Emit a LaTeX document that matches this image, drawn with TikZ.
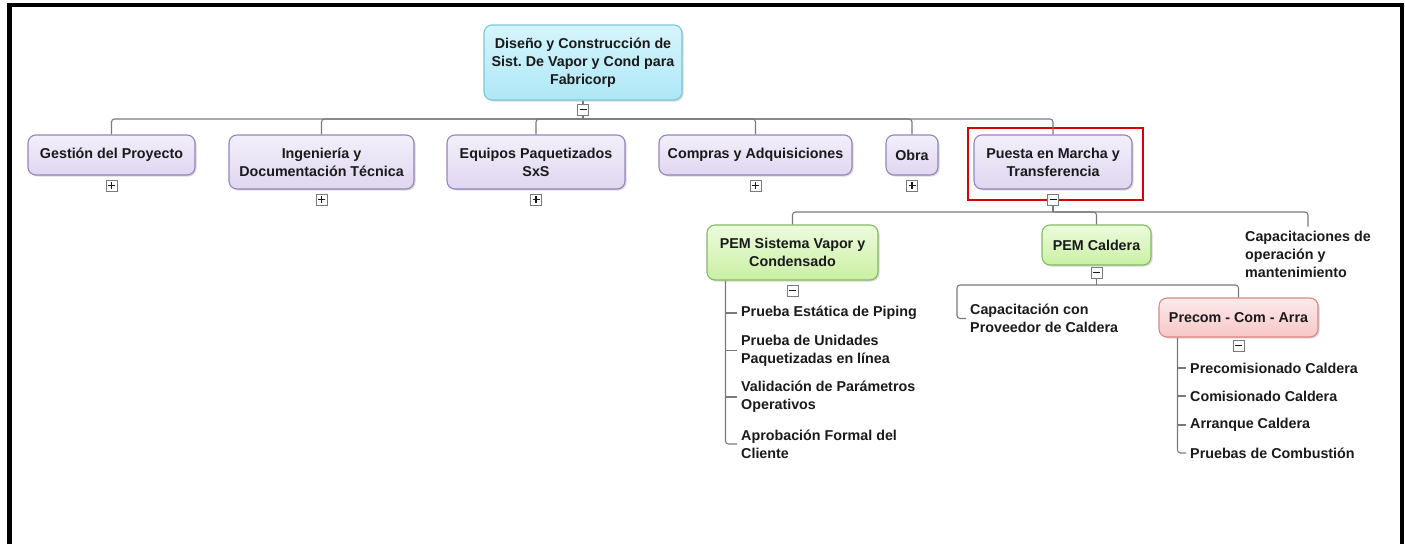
\documentclass[tikz,border=0pt]{standalone}
\usepackage{fontspec}
\setmainfont{Liberation Sans}
\usetikzlibrary{shadows,positioning}
\definecolor{txt}{HTML}{1A1A1A}
\definecolor{linecol}{HTML}{7A7A7A}
\definecolor{roottop}{HTML}{D6F5FC}
\definecolor{rootbot}{HTML}{AEE7F6}
\definecolor{rootline}{HTML}{7CC6DA}
\definecolor{lavtop}{HTML}{F3EFFA}
\definecolor{lavbot}{HTML}{E0D6F1}
\definecolor{lavline}{HTML}{9683BE}
\definecolor{pemtop}{HTML}{EDFBDD}
\definecolor{pembot}{HTML}{CAF0A3}
\definecolor{pemline}{HTML}{82BA62}
\definecolor{prectop}{HTML}{FDEAEA}
\definecolor{precbot}{HTML}{F7C7C7}
\definecolor{precline}{HTML}{DE8585}
\newcommand{\wbsfont}{\fontsize{14.3}{18}\selectfont\bfseries\frenchspacing}
\tikzset{%
  wbs/.style={draw, rounded corners=8pt, line width=1.1pt, align=center,
    inner sep=0pt, font=\wbsfont, text=txt,
    drop shadow={shadow xshift=1.5pt, shadow yshift=-1.5pt, opacity=.3}},
  rootbox/.style={wbs, draw=rootline, top color=roottop, bottom color=rootbot},
  phase/.style={wbs, draw=lavline, top color=lavtop, bottom color=lavbot},
  pembox/.style={wbs, draw=pemline, top color=pemtop, bottom color=pembot},
  precbox/.style={wbs, draw=precline, top color=prectop, bottom color=precbot},
  leaf/.style={anchor=west, align=left, inner sep=4pt, font=\wbsfont, text=txt},
  conn/.style={draw=linecol, line width=1.1pt, rounded corners=3pt},
  toggle/.style={draw=linecol, fill=white, minimum size=11pt, inner sep=0pt,
    line width=.8pt},
  tgminus/.style={toggle, path picture={%
      \draw[line width=1.4pt,txt] ([xshift=-3.5pt]path picture bounding box.center)
        -- ([xshift=3.5pt]path picture bounding box.center);}},
  tgplus/.style={toggle, path picture={%
      \draw[line width=1.4pt,txt] ([xshift=-3.5pt]path picture bounding box.center)
        -- ([xshift=3.5pt]path picture bounding box.center);
      \draw[line width=1.4pt,txt] ([yshift=-3.5pt]path picture bounding box.center)
        -- ([yshift=3.5pt]path picture bounding box.center);}},
}

\begin{document}
\begin{tikzpicture}[x=1pt,y=-1pt]
  \useasboundingbox (0,0) rectangle (1405,544);
  % frame
  \draw[line width=4.5pt] (9.5,544) -- (9.5,5) -- (1402,5) -- (1402,544);

  % root and first level
  \node[rootbox, minimum width=198pt, minimum height=75pt] (root) at (583,62.5)
    {Diseño y Construcción de\\Sist. De Vapor y Cond para\\Fabricorp};
  \node[tgminus, below=3pt of root] (tgroot) {};
  \coordinate (bus0) at (583,119);

  \node[phase, minimum width=167pt, minimum height=40pt] (gestion) at (111.5,155)
    {Gestión del Proyecto};
  \node[phase, minimum width=185pt, minimum height=54pt] (ingenieria) at (321.5,162)
    {Ingeniería y\\Documentación Técnica};
  \node[phase, minimum width=178pt, minimum height=54pt] (equipos) at (536,162)
    {Equipos Paquetizados\\SxS};
  \node[phase, minimum width=193pt, minimum height=40pt] (compras) at (755.5,155)
    {Compras y Adquisiciones};
  \node[phase, minimum width=52pt, minimum height=40pt] (obra) at (912,155)
    {Obra};
  \node[phase, minimum width=158pt, minimum height=54pt] (puesta) at (1053,162)
    {Puesta en Marcha y\\Transferencia};
  \draw[red!85!black, line width=1.2pt] (968,128) rectangle (1143,200);

  \foreach \n in {gestion,ingenieria,equipos,compras,obra}
    \node[tgplus, below=4pt of \n] (tg\n) {};
  \node[tgminus, below=4pt of puesta] (tgpuesta) {};

  \draw[conn] (root) -- (tgroot) -- (bus0);
  \foreach \n in {gestion,ingenieria,equipos,compras,obra,puesta}
    \draw[conn] (bus0) -| (\n.north);

  % second level
  \coordinate (bus1) at (1053,212);
  \node[pembox, minimum width=171pt, minimum height=55pt] (pemsis) at (792.5,252.5)
    {PEM Sistema Vapor y\\Condensado};
  \node[pembox, minimum width=109pt, minimum height=40pt] (pemcal) at (1096.5,245)
    {PEM Caldera};
  \node[leaf] (capac) at (1241,254)
    {Capacitaciones de\\operación y\\mantenimiento};
  \draw[conn] (tgpuesta) -- (bus1);
  \foreach \n in {pemsis,pemcal,capac}
    \draw[conn] (bus1) -| (\n.north);

  % PEM sistema vapor
  \node[tgminus, below=4pt of pemsis] (tgpemsis) {};
  \node[leaf] (prueba) at (737,313) {Prueba Estática de Piping};
  \node[leaf] (unidades) at (737,350.5) {Prueba de Unidades\\Paquetizadas en línea};
  \node[leaf] (validacion) at (737,397) {Validación de Parámetros\\Operativos};
  \node[leaf] (aprobacion) at (737,444) {Aprobación Formal del\\Cliente};
  \coordinate (vsis) at ([xshift=19pt]pemsis.south west);
  \draw[conn] (vsis) |- (aprobacion.west);
  \foreach \n in {prueba,unidades,validacion}
    \draw[conn] (vsis |- \n.west) -- (\n.west);

  % PEM caldera
  \node[tgminus, below=1pt of pemcal] (tgpemcal) {};
  \coordinate (bus2) at (1096.5,285);
  \coordinate (capL) at (957,285);
  \node[leaf] (capprov) at (966,318.5) {Capacitación con\\Proveedor de Caldera};
  \node[precbox, minimum width=159pt, minimum height=39pt] (precom) at (1238.5,317.5)
    {Precom - Com - Arra};
  \draw[conn] (tgpemcal) -- (bus2);
  \draw[conn] (bus2) -- (capL) |- (capprov.west);
  \draw[conn] (bus2) -| (precom.north);

  % precom - com - arra
  \node[tgminus, below=2pt of precom] (tgprecom) {};
  \node[leaf] (precomis) at (1186,368) {Precomisionado Caldera};
  \node[leaf] (comis) at (1186,396) {Comisionado Caldera};
  \node[leaf] (arranque) at (1186,425) {Arranque Caldera};
  \node[leaf] (combustion) at (1186,453) {Pruebas de Combustión};
  \coordinate (vprec) at ([xshift=19pt]precom.south west);
  \draw[conn] (vprec) |- (combustion.west);
  \foreach \n in {precomis,comis,arranque}
    \draw[conn] (vprec |- \n.west) -- (\n.west);
\end{tikzpicture}
\end{document}
